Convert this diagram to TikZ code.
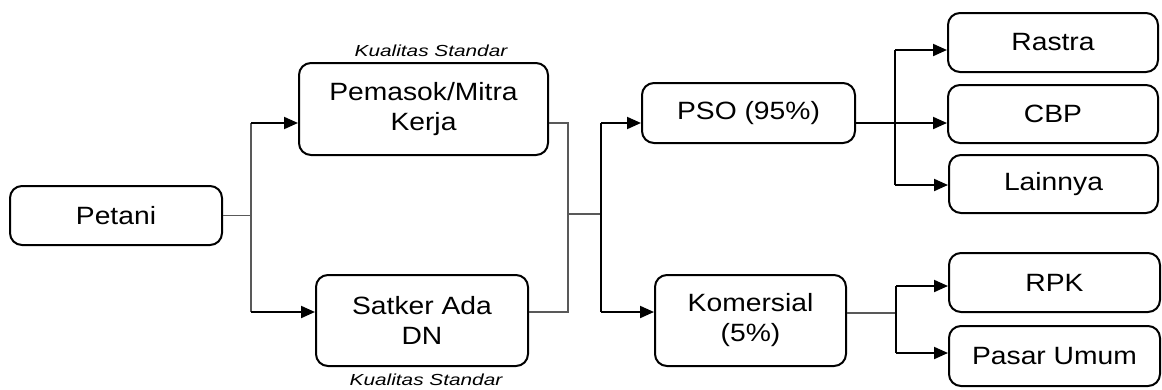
\documentclass[tikz,border=0pt]{standalone}
\usepackage{fontspec}
\setmainfont[FakeStretch=1.13]{Liberation Sans}
\newfontfamily\kfont[FakeStretch=1.3]{Liberation Sans}
\usetikzlibrary{arrows.meta}
\begin{document}
\begin{tikzpicture}[x=1pt,y=-1pt,
 box/.style={draw, line width=2pt, rounded corners=12pt, align=center, font=\fontsize{25}{30}\selectfont, inner sep=0pt},
 arr/.style={line width=2pt, -{Triangle[length=14pt,width=12pt]}},
 thinline/.style={line width=1.3pt, draw=black!65},
 thinblack/.style={line width=1.4pt, draw=black},
 lbl/.style={font=\kfont\itshape\fontsize{16}{19}\selectfont, inner sep=0pt, anchor=base, text depth=0pt}]
\useasboundingbox (0,0) rectangle (1162,389);
\node[box, minimum width=212pt, minimum height=59pt] (petani) at (116,215.5) {Petani};
\node[box, minimum width=249pt, minimum height=92pt] (pem) at (423.5,109) {Pemasok/Mitra\\Kerja};
\node[box, minimum width=212pt, minimum height=91pt] (sat) at (422,320.5) {Satker Ada\\DN};
\node[box, minimum width=213pt, minimum height=60pt] (pso) at (748.5,113) {PSO (95\%)};
\node[box, minimum width=191pt, minimum height=91pt] (kom) at (750.5,320.5) {Komersial\\(5\%)};
\node[box, minimum width=210pt, minimum height=59pt] (rastra) at (1053,42.5) {Rastra};
\node[box, minimum width=210pt, minimum height=58pt] (cbp) at (1053,114) {CBP};
\node[box, minimum width=209pt, minimum height=58pt] (lain) at (1053.5,184) {Lainnya};
\node[box, minimum width=211pt, minimum height=59pt] (rpk) at (1054.5,282.5) {RPK};
\node[box, minimum width=211pt, minimum height=60pt] (pasar) at (1054.5,356) {Pasar Umum};
\node[lbl] (kt) at (431,56) {Kualitas Standar};
\node[lbl] (kb) at (426,385) {Kualitas Standar};
% left junction
\coordinate (jL) at (251,215.5);
\coordinate (jLt) at (251,123);
\coordinate (jLb) at (251,312);
\draw[thinline] (petani.east) -- (jL);
\draw[thinline] (jLt) -- (jLb);
\draw[arr] (jLt) -- (jLt -| pem.west);
\draw[arr] (jLb) -- (jLb -| sat.west);
% middle junction
\coordinate (jM1t) at (568,123);
\coordinate (jM1b) at (568,312);
\coordinate (jM1c) at (568,214);
\coordinate (jM2c) at (601,214);
\coordinate (jM2t) at (601,123);
\coordinate (jM2b) at (601,312);
\draw[thinline] (jM1t -| pem.east) -- (jM1t) -- (jM1b) -- (jM1b -| sat.east);
\draw[thinline] (jM1c) -- (jM2c);
\draw[thinblack] (jM2t) -- (jM2b);
\draw[arr] (jM2t) -- (jM2t -| pso.west);
\draw[arr] (jM2b) -- (jM2b -| kom.west);
% PSO branch
\coordinate (jRt) at (895,50);
\coordinate (jRb) at (895,185);
\draw[arr] (jM2t -| pso.east) -- (jM2t -| cbp.west);
\draw[thinblack] (jRt) -- (jRb);
\draw[arr] (jRt) -- (jRt -| rastra.west);
\draw[arr] (jRb) -- (jRb -| lain.west);
% Komersial branch
\coordinate (jK) at (896,313);
\coordinate (jKt) at (896,286);
\coordinate (jKb) at (896,353);
\draw[thinline] (jK -| kom.east) -- (jK);
\draw[line width=2pt] (jKt) -- (jKb);
\draw[arr] (jKt) -- (jKt -| rpk.west);
\draw[arr] (jKb) -- (jKb -| pasar.west);
\end{tikzpicture}
\end{document}
